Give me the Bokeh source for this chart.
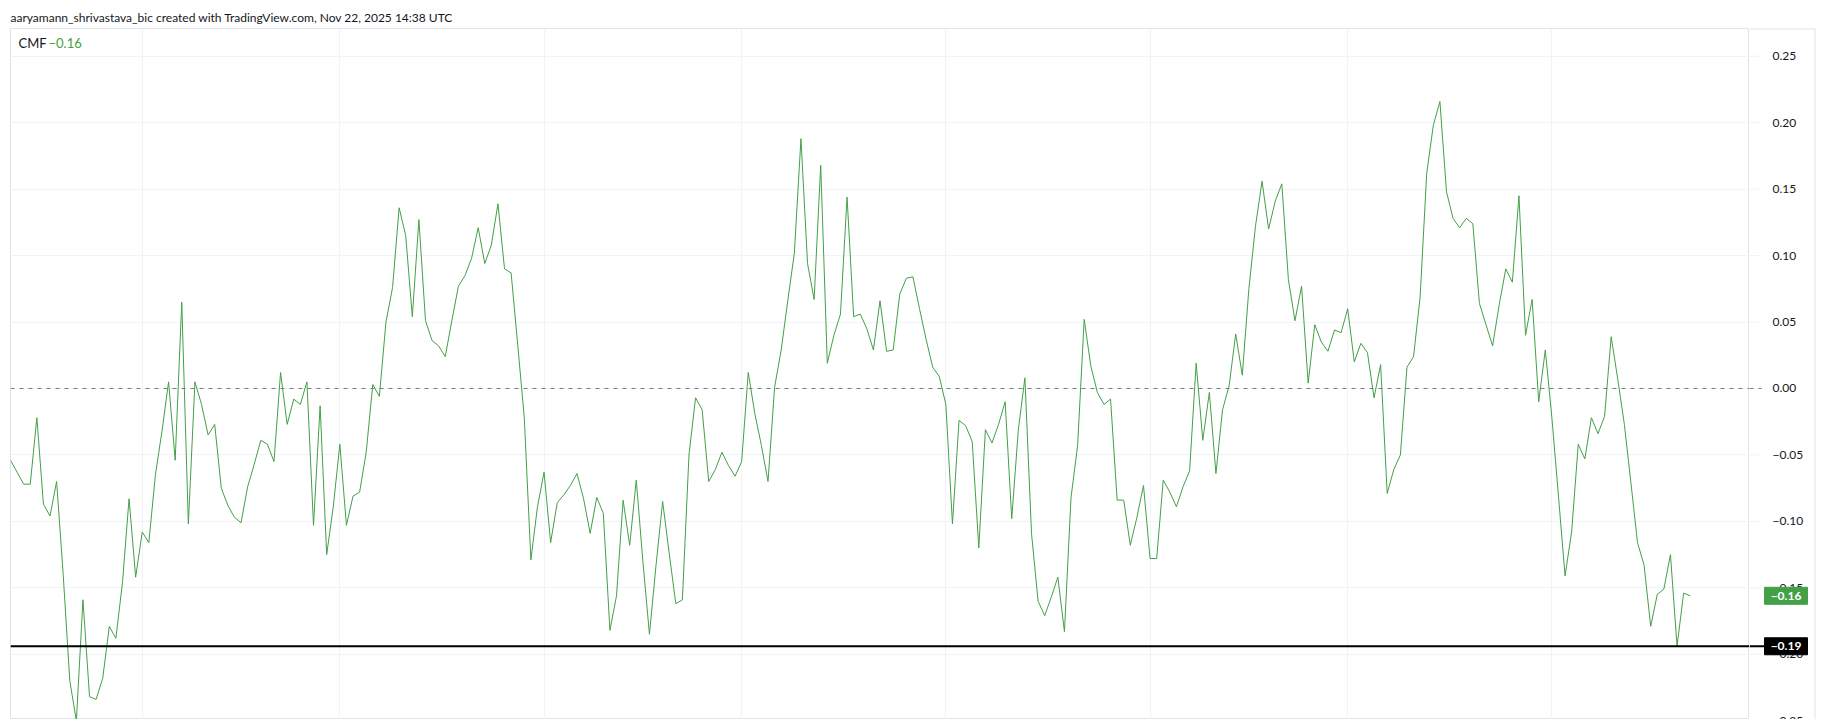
from bokeh.plotting import figure
from bokeh.layouts import row
from bokeh.models import Range1d, FixedTicker, Grid, Span, Label, ColumnDataSource
from bokeh.core.properties import value
from bokeh.embed import file_html
from bokeh.resources import INLINE

# ---- data (daily CMF values) ----
cmf_part1 = [-0.054, -0.063, -0.072, -0.072, -0.022, -0.087, -0.096, -0.070, -0.140, -0.220,
             -0.250, -0.159, -0.232, -0.234, -0.218, -0.179, -0.188, -0.146, -0.083, -0.142,
             -0.108, -0.116, -0.065, -0.032, 0.005, -0.054, 0.065, -0.102, 0.005, -0.012,
             -0.035, -0.027, -0.075, -0.088, -0.097, -0.101, -0.074, -0.057, -0.039, -0.042,
             -0.055, 0.012, -0.027, -0.008]
cmf_part2 = [-0.012, 0.005, -0.103, -0.013, -0.125, -0.089, -0.042, -0.103, -0.081, -0.078,
             -0.048, 0.003, -0.006, 0.050, 0.076, 0.136, 0.115, 0.054, 0.127, 0.051,
             0.036, 0.032, 0.024, 0.051, 0.077, 0.085, 0.098, 0.121, 0.094, 0.108,
             0.139, 0.090, 0.087, 0.033, -0.022, -0.129, -0.089, -0.063, -0.116, -0.086,
             -0.080, -0.073, -0.064, -0.083]
cmf_part3 = [-0.109, -0.082, -0.094, -0.182, -0.156, -0.084, -0.118, -0.069, -0.130, -0.185,
             -0.133, -0.085, -0.124, -0.162, -0.159, -0.050, -0.007, -0.016, -0.070, -0.061,
             -0.048, -0.058, -0.066, -0.055, 0.012, -0.019, -0.043, -0.070, 0.001, 0.029,
             0.066, 0.102, 0.188, 0.094, 0.067, 0.168, 0.019, 0.040, 0.056, 0.144,
             0.054, 0.056, 0.045, 0.029]
cmf_part4 = [0.066, 0.028, 0.029, 0.071, 0.083, 0.084, 0.060, 0.037, 0.016, 0.009,
             -0.012, -0.102, -0.024, -0.028, -0.040, -0.120, -0.031, -0.041, -0.027, -0.010,
             -0.098, -0.031, 0.008, -0.109, -0.160, -0.171, -0.157, -0.142, -0.183, -0.082,
             -0.043, 0.052, 0.017, -0.003, -0.012, -0.008, -0.084, -0.084, -0.118, -0.097,
             -0.073, -0.128, -0.128, -0.069]
cmf_part5 = [-0.078, -0.089, -0.074, -0.062, 0.019, -0.039, -0.003, -0.064, -0.016, 0.002,
             0.041, 0.010, 0.075, 0.122, 0.156, 0.120, 0.141, 0.154, 0.082, 0.051,
             0.077, 0.004, 0.048, 0.035, 0.028, 0.044, 0.042, 0.060, 0.020, 0.034,
             0.027, -0.007, 0.018, -0.079, -0.061, -0.050, 0.016, 0.024, 0.069, 0.162,
             0.198, 0.216, 0.148, 0.128]
cmf_part6 = [0.121, 0.128, 0.124, 0.064, 0.048, 0.032, 0.063, 0.090, 0.080, 0.145,
             0.040, 0.067, -0.010, 0.029, -0.022, -0.081, -0.141, -0.108, -0.042, -0.053,
             -0.022, -0.034, -0.021, 0.039, 0.007, -0.027, -0.071, -0.116, -0.133, -0.179,
             -0.155, -0.151, -0.125, -0.194, -0.154, -0.156]
cmf = cmf_part1 + cmf_part2 + cmf_part3 + cmf_part4 + cmf_part5 + cmf_part6
bar_index = list(range(len(cmf)))

y_ticks = [-0.25, -0.20, -0.15, -0.10, -0.05, 0.0, 0.05, 0.10, 0.15, 0.20, 0.25]
month_grid_index = [20, 50, 81, 111, 142, 173, 203, 234]
zero_level = 0.0
drawn_level = -0.194
indicator_name = "CMF"
header = "aaryamann_shrivastava_bic created with TradingView.com, Nov 22, 2025 14:38 UTC"


def fmt(v):
    return ("\u2212" if v < -1e-9 else "") + f"{abs(v):.2f}"


y_tick_labels = [fmt(v) for v in y_ticks]
last_value_text = fmt(cmf[-1])
drawn_level_text = fmt(drawn_level)

GREEN = "#43a047"
TEXT = "#131722"
GRID = "#f0f3fa"
BORDER = "#e0e3eb"
ZERO = "#787b86"
FONT = "Lato"

H = 719
y_range = Range1d(-0.2491, 0.2709)

# ---------------- main pane ----------------
p = figure(width=1749, height=H, output_backend="svg", toolbar_location=None,
           x_range=Range1d(0, 264), y_range=y_range,
           x_axis_location=None, y_axis_location=None,
           min_border_left=10, min_border_top=28, min_border_bottom=0, min_border_right=0,
           background_fill_color="white", border_fill_color="white")

p.title.text = header
p.title.align = "left"
p.title.text_font = FONT
p.title.text_font_size = "12px"
p.title.text_font_style = "normal"
p.title.text_color = TEXT
p.title.standoff = 7
p.title.offset = 0
p.outline_line_color = BORDER

p.xgrid.visible = False
p.ygrid.visible = False
p.add_layout(Grid(dimension=1, ticker=FixedTicker(ticks=y_ticks), grid_line_color=GRID))
p.add_layout(Grid(dimension=0, ticker=FixedTicker(ticks=month_grid_index),
                  grid_line_color=GRID))

p.add_layout(Span(location=zero_level, dimension="width", line_color=ZERO,
                  line_dash="4 5", line_width=1))
p.add_layout(Span(location=drawn_level, dimension="width", line_color="black",
                  line_width=2))

src = ColumnDataSource(dict(x=bar_index, y=cmf))
p.line("x", "y", source=src, line_color=GREEN, line_width=1)

p.add_layout(Label(x=8, y=677, x_units="screen", y_units="screen", text=indicator_name,
                   text_font=FONT, text_font_size="13px", text_color=TEXT,
                   text_baseline="middle"))
p.add_layout(Label(x=38, y=677, x_units="screen", y_units="screen", text=last_value_text,
                   text_font=FONT, text_font_size="13px", text_color=GREEN,
                   text_baseline="middle"))

# ---------------- price scale ----------------
s = figure(width=74, height=H, output_backend="svg", toolbar_location=None,
           x_range=Range1d(0, 66), y_range=y_range,
           x_axis_location=None, y_axis_location=None,
           min_border_left=0, min_border_top=28, min_border_bottom=0, min_border_right=8,
           background_fill_color="white", border_fill_color="white")
s.outline_line_color = None
s.xgrid.visible = False
s.ygrid.visible = False
# top and right border of the price scale (left border is the pane's outline)
s.add_layout(Span(location=y_range.end, dimension="width", line_color=BORDER, line_width=2))
s.add_layout(Span(location=66, dimension="height", line_color=BORDER, line_width=2))

tick_src = ColumnDataSource(dict(y=y_ticks, label=y_tick_labels))
s.segment(x0=0, x1=12, y0="y", y1="y", source=tick_src, line_color=GRID, line_width=1)
s.segment(x0=0, x1=12, y0=zero_level, y1=zero_level, line_color=ZERO, line_width=1,
          line_dash="4 5")
s.text(x=23, y="y", text="label", source=tick_src, text_font=value(FONT),
       text_font_size="12px", text_color=TEXT, text_align="left", text_baseline="middle")

# black drawn line continues to its badge
s.segment(x0=0, x1=30, y0=drawn_level, y1=drawn_level, line_color="black", line_width=2)

badge_src = ColumnDataSource(dict(y=[cmf[-1], drawn_level],
                                  label=[last_value_text, drawn_level_text],
                                  color=[GREEN, "black"]))
s.rect(x=36.5, y="y", width=43, height=17, height_units="screen", source=badge_src,
       fill_color="color", line_color="color")
s.text(x=36.5, y="y", text="label", source=badge_src, text_font=value(FONT),
       text_font_size="12px", text_font_style="bold", text_color="white",
       text_align="center", text_baseline="middle")

open("out.html", "w").write(file_html(row(p, s), INLINE))
